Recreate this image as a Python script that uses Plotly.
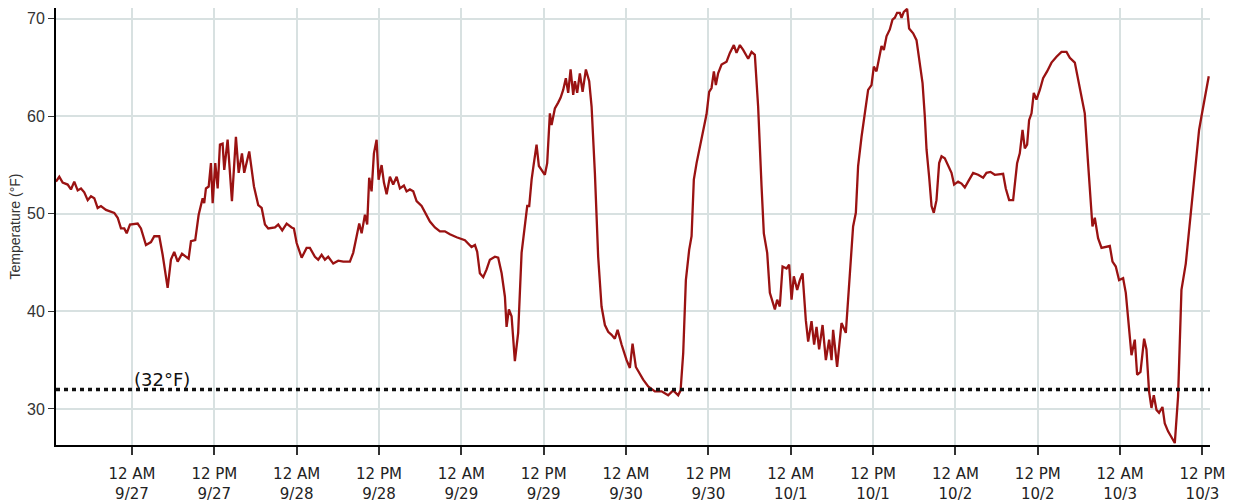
import pandas as pd
import plotly.graph_objects as go

# Hours relative to 12 AM 9/27, and temperature (°F)
hours = [
    -11.07, -10.59, -10.10, -9.37, -8.89, -8.41, -7.91, -7.43, -6.95, -6.45,
    -5.97, -5.49, -5.00, -4.52, -3.79, -2.58, -2.08, -1.60, -1.12, -0.77,
    -0.29, 0.83, 1.31, 2.04, 2.77, 3.25, 3.98, 4.47, 5.20, 5.68,
    6.16, 6.66, 7.29, 7.87, 8.26, 8.60, 9.22, 9.72, 10.05, 10.30,
    10.53, 10.78, 11.18, 11.51, 11.76, 12.14, 12.49, 12.82, 13.21, 13.45,
    13.94, 14.57, 15.15, 15.55, 16.03, 16.36, 17.09, 17.59, 17.78, 18.40,
    18.90, 19.38, 19.86, 20.84, 21.32, 21.90, 22.54, 23.27, 23.60, 24.00,
    24.73, 25.45, 25.93, 26.66, 27.14, 27.64, 28.12, 28.60, 29.33, 30.06,
    30.79, 31.76, 32.24, 32.74, 33.12, 33.47, 33.95, 34.28, 34.57, 34.92,
    35.26, 35.65, 35.94, 36.38, 36.72, 37.11, 37.59, 38.07, 38.57, 39.05,
    39.63, 40.02, 40.50, 40.99, 41.48, 42.21, 43.42, 44.15, 44.88, 45.60,
    46.33, 47.31, 48.52, 49.49, 49.98, 50.31, 50.70, 51.19, 51.68, 52.16,
    52.89, 53.37, 53.87, 54.35, 54.59, 54.93, 55.32, 55.80, 56.28, 56.78,
    57.26, 57.60, 57.89, 58.24, 58.57, 58.96, 59.30, 60.17, 60.51, 60.90,
    61.15, 61.63, 62.11, 62.46, 62.84, 63.23, 63.57, 63.92, 64.30, 64.55,
    64.88, 65.27, 65.67, 66.15, 66.63, 66.98, 67.46, 67.94, 68.43, 68.92,
    69.40, 69.89, 70.37, 70.77, 71.35, 72.08, 72.56, 72.95, 73.43, 74.02,
    74.50, 75.23, 76.20, 77.18, 78.14, 78.87, 79.60, 79.95, 80.33, 80.72,
    81.20, 81.55, 81.88, 82.28, 82.76, 83.24, 83.73, 84.11, 84.46, 84.80,
    85.09, 85.42, 85.92, 86.65, 87.13, 87.71, 88.10, 88.59, 89.07, 89.80,
    90.29, 90.77, 91.25, 91.75, 92.08, 92.57, 92.96, 93.69, 94.02, 94.41,
    94.81, 95.39, 95.77, 96.12, 96.45, 96.94, 97.33, 97.72, 98.20, 98.54,
    99.03, 99.41, 99.76, 100.14, 100.64, 101.12, 101.60, 101.95, 102.18, 102.76,
    103.40, 104.03, 104.51, 105.09, 105.49, 105.82, 106.32, 106.80, 107.28, 107.77,
    108.11, 108.50, 108.88, 109.23, 109.57, 109.96, 110.44, 110.83, 111.17, 111.50,
    111.90, 112.15, 112.48, 112.96, 113.25, 113.84, 114.33, 114.71, 115.21, 115.54,
    115.79, 116.17, 116.52, 116.85, 117.24, 117.63, 117.98, 118.45, 118.94, 119.43,
    119.81, 120.39, 120.89, 121.37, 121.85, 122.58, 123.31, 124.04, 124.53, 125.11,
    125.74, 126.95, 127.34, 127.83, 128.41, 128.99, 129.38, 129.78, 130.11, 130.45,
    130.74, 131.09, 131.42, 131.81, 132.30, 132.78, 133.36, 134.00, 134.73, 135.46,
    136.19, 136.67, 137.40, 137.88, 138.37, 138.85, 139.33, 139.73, 139.97, 140.31,
    140.79, 141.29, 142.01, 142.50, 142.89, 143.37, 143.85, 144.44, 144.83, 145.17,
    145.66, 146.14, 146.48, 146.97, 147.50, 147.84, 148.22, 148.57, 148.91, 149.30,
    149.68, 150.17, 150.51, 150.99, 151.72, 151.97, 152.45, 152.94, 153.57, 154.15,
    154.55, 154.89, 155.51, 155.86, 156.24, 156.59, 156.92,
]

temps = [
    53.3, 53.8, 53.2, 53.0, 52.5, 53.3, 52.4, 52.6, 52.2, 51.4,
    51.8, 51.6, 50.6, 50.8, 50.4, 50.1, 49.6, 48.5, 48.5, 48.0,
    48.9, 49.0, 48.5, 46.8, 47.1, 47.7, 47.7, 45.8, 42.4, 45.3,
    46.1, 45.1, 45.9, 45.6, 45.4, 47.2, 47.3, 49.9, 51.1, 51.6,
    51.1, 52.6, 52.8, 55.2, 51.1, 55.2, 52.6, 57.1, 57.2, 54.5,
    57.6, 51.3, 57.9, 54.2, 56.2, 54.2, 56.4, 54.0, 52.8, 50.9,
    50.6, 48.9, 48.5, 48.6, 48.9, 48.3, 49.0, 48.6, 48.5, 47.0,
    45.5, 46.5, 46.5, 45.6, 45.3, 45.8, 45.3, 45.6, 44.9, 45.2,
    45.1, 45.1, 46.0, 47.7, 49.0, 48.0, 49.9, 48.9, 53.7, 52.3,
    56.2, 57.6, 53.5, 55.0, 53.2, 52.0, 53.8, 53.0, 53.8, 52.6,
    52.9, 52.3, 52.5, 52.3, 51.3, 50.8, 49.2, 48.6, 48.2, 48.2,
    47.9, 47.6, 47.3, 46.6, 46.8, 46.1, 43.9, 43.5, 44.3, 45.3,
    45.6, 45.5, 43.9, 41.5, 38.4, 40.2, 39.5, 34.9, 37.8, 46.0,
    49.0, 50.8, 50.8, 53.5, 55.2, 57.1, 54.9, 54.0, 55.2, 60.3,
    59.1, 60.8, 61.4, 61.9, 62.7, 63.9, 62.4, 64.8, 62.2, 63.6,
    62.4, 64.4, 62.5, 64.8, 63.6, 61.0, 54.2, 45.6, 40.5, 38.6,
    37.9, 37.6, 37.2, 38.1, 36.6, 35.0, 34.2, 36.7, 34.3, 33.5,
    33.0, 32.3, 31.8, 31.8, 31.4, 31.9, 31.4, 31.9, 35.7, 43.2,
    46.3, 47.7, 53.5, 55.2, 56.9, 58.3, 60.2, 62.5, 62.9, 64.6,
    63.2, 64.4, 65.3, 65.6, 66.5, 67.3, 66.5, 67.3, 66.8, 65.9,
    66.6, 66.3, 61.0, 52.8, 48.0, 46.0, 41.9, 40.2, 41.2, 40.5,
    44.6, 44.4, 44.8, 41.2, 43.6, 42.2, 43.2, 43.9, 39.1, 36.9,
    39.0, 36.6, 38.4, 36.1, 38.6, 35.0, 37.1, 35.0, 38.1, 34.3,
    38.8, 37.8, 42.5, 48.7, 50.1, 54.9, 57.9, 60.3, 62.7, 63.2,
    65.1, 64.6, 65.8, 67.2, 66.8, 68.2, 68.9, 69.9, 70.1, 70.6,
    70.6, 70.1, 70.7, 71.0, 69.0, 68.5, 67.8, 66.1, 63.4, 60.0,
    56.6, 53.8, 50.8, 50.1, 51.4, 55.2, 55.9, 55.7, 54.9, 54.2,
    53.0, 53.3, 53.1, 52.7, 53.3, 54.2, 54.0, 53.7, 54.2, 54.3,
    54.0, 54.1, 52.6, 51.4, 51.4, 55.2, 56.2, 58.6, 56.7, 57.1,
    59.6, 60.3, 62.4, 61.7, 62.7, 63.9, 64.6, 65.5, 66.1, 66.6,
    66.6, 66.0, 65.5, 63.7, 62.0, 60.3, 55.2, 51.1, 48.7, 49.6,
    47.5, 46.5, 46.6, 46.7, 45.1, 44.6, 43.2, 43.4, 41.9, 39.1,
    35.5, 37.1, 33.5, 33.8, 37.2, 36.1, 31.8, 30.1, 31.4, 29.9,
    29.6, 30.2, 28.5, 27.7, 26.8, 26.5, 31.3, 42.2, 44.9, 49.0,
    52.5, 54.9, 58.6, 60.0, 61.5, 62.9, 64.1,
]

tick_hours = [0, 12, 24, 36, 48, 60, 72, 84, 96, 108, 120, 132, 144, 156]
tick_labels = [
    "12 AM<br>9/27", "12 PM<br>9/27", "12 AM<br>9/28", "12 PM<br>9/28",
    "12 AM<br>9/29", "12 PM<br>9/29", "12 AM<br>9/30", "12 PM<br>9/30",
    "12 AM<br>10/1", "12 PM<br>10/1", "12 AM<br>10/2", "12 PM<br>10/2",
    "12 AM<br>10/3", "12 PM<br>10/3",
]
y_ticks = [30, 40, 50, 60, 70]
freezing = 32
range_hours = [-11.07, 157.1]

base = pd.Timestamp("2020-09-27 00:00")
times = base + pd.to_timedelta(hours, unit="h")
tick_times = base + pd.to_timedelta(tick_hours, unit="h")
x_range = list(base + pd.to_timedelta(range_hours, unit="h"))

fig = go.Figure()
fig.add_trace(go.Scatter(
    x=times, y=temps, mode="lines",
    line=dict(color="#9a1212", width=2.3),
    showlegend=False, hoverinfo="skip",
))
fig.add_trace(go.Scatter(
    x=x_range, y=[freezing, freezing], mode="lines",
    line=dict(color="#111111", width=3.5, dash="4px,4px"),
    showlegend=False, hoverinfo="skip",
))
fig.add_annotation(
    x=base + pd.Timedelta(hours=4.4), y=freezing, text="(32°F)",
    showarrow=False, yanchor="bottom", yshift=-3,
    font=dict(family="DejaVu Sans, sans-serif", size=18, color="#111111"),
)

fig.update_layout(
    width=1233, height=502,
    margin=dict(l=56, r=23, t=8, b=57),
    paper_bgcolor="white", plot_bgcolor="white",
    xaxis=dict(
        type="date", range=x_range, automargin=False,
        tickmode="array", tickvals=tick_times, ticktext=tick_labels,
        ticks="outside", ticklen=8, tickwidth=1.5, tickcolor="#333333",
        ticklabelstandoff=6,
        showgrid=True, gridcolor="#d8e1e1", gridwidth=1.5,
        showline=True, linecolor="#000000", linewidth=2,
        tickfont=dict(family="DejaVu Sans, sans-serif", size=15, color="#222222"),
        zeroline=False,
    ),
    yaxis=dict(
        range=[26.3, 71.1], automargin=False,
        tickmode="array", tickvals=y_ticks,
        ticks="outside", ticklen=6, tickwidth=1.2, tickcolor="#333333",
        showgrid=True, gridcolor="#d8e1e1", gridwidth=1.5,
        showline=True, linecolor="#000000", linewidth=2,
        tickfont=dict(family="Liberation Sans, Arial, sans-serif", size=16, color="#333333"),
        title=dict(text="Temperature (°F)", standoff=3,
                   font=dict(family="Liberation Sans, Arial, sans-serif", size=14, color="#333333")),
        zeroline=False,
    ),
)

fig.write_html(
    "out.html",
    config={"displayModeBar": False},
    post_script="document.body.style.margin='0px';document.body.style.overflow='hidden';",
)
